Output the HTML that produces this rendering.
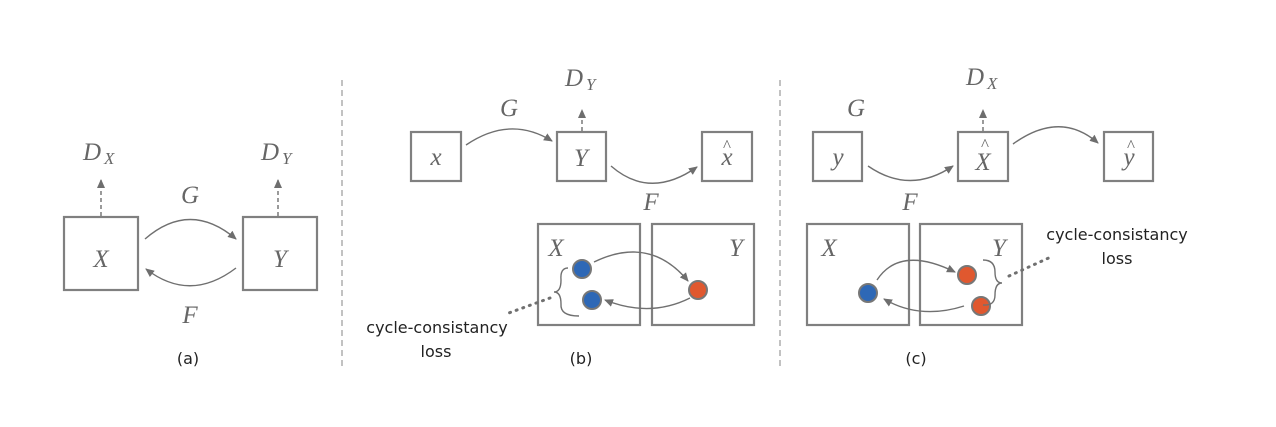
<!DOCTYPE html>
<html><head><style>body{margin:0;background:#fff}</style></head><body>
<svg width="1276" height="422" viewBox="0 0 1276 422" xmlns="http://www.w3.org/2000/svg">
<defs>
<marker id="ah" markerWidth="10" markerHeight="10" refX="8" refY="5" orient="auto" markerUnits="userSpaceOnUse"><path d="M0,1 L9,5 L0,9 Z" fill="#6e6e6e"/></marker>
</defs>
<style>
.b{fill:none;stroke:#808080;stroke-width:2.2}
.c{fill:none;stroke:#707070;stroke-width:1.4}
.d{stroke:#707070;stroke-width:1.4;stroke-dasharray:4,3}
.m{font-family:"Liberation Serif",serif;font-style:italic;fill:#666;font-size:25px}
.s{font-family:"Liberation Serif",serif;font-style:italic;fill:#666;font-size:17px}
.t{font-family:"DejaVu Sans","Liberation Sans",sans-serif;fill:#222;font-size:16px}
.sep{stroke:#999;stroke-width:1.2;stroke-dasharray:6,4}
.bl{fill:#2e68b6;stroke:#777;stroke-width:2}
.or{fill:#e0582f;stroke:#777;stroke-width:2}
.dot{stroke:#707070;stroke-width:3;stroke-dasharray:1,6;stroke-linecap:round}
</style>
<line class="sep" x1="342" y1="80" x2="342" y2="368"/>
<line class="sep" x1="780" y1="80" x2="780" y2="368"/>

<!-- (a) -->
<rect class="b" x="64" y="217" width="74" height="73"/>
<rect class="b" x="243" y="217" width="74" height="73"/>
<text class="m" x="101" y="267" text-anchor="middle">X</text>
<text class="m" x="280" y="267" text-anchor="middle">Y</text>
<text class="m" x="83" y="160">D</text><text class="s" x="104" y="164">X</text>
<text class="m" x="261" y="160">D</text><text class="s" x="282" y="164">Y</text>
<line class="d" x1="101" y1="216" x2="101" y2="180" marker-end="url(#ah)"/>
<line class="d" x1="278" y1="216" x2="278" y2="180" marker-end="url(#ah)"/>
<path class="c" d="M145,239 Q190,200 236,239" marker-end="url(#ah)"/>
<path class="c" d="M236,268 Q190,303 146,269" marker-end="url(#ah)"/>
<text class="m" x="190" y="203" text-anchor="middle">G</text>
<text class="m" x="190" y="323" text-anchor="middle">F</text>
<text class="t" x="188" y="364" text-anchor="middle">(a)</text>

<!-- (b) -->
<rect class="b" x="411" y="132" width="50" height="49"/>
<rect class="b" x="557" y="132" width="49" height="49"/>
<rect class="b" x="702" y="132" width="50" height="49"/>
<text class="m" x="436" y="165" text-anchor="middle">x</text>
<text class="m" x="581" y="166" text-anchor="middle">Y</text>
<text class="m" x="727" y="165" text-anchor="middle">x</text>
<text class="s" x="727" y="151" text-anchor="middle" style="font-style:normal">^</text>
<text class="m" x="565" y="86">D</text><text class="s" x="586" y="90">Y</text>
<line class="d" x1="582" y1="131" x2="582" y2="110" marker-end="url(#ah)"/>
<path class="c" d="M466,145 Q510,115 552,141" marker-end="url(#ah)"/>
<path class="c" d="M611,166 Q650,200 697,167" marker-end="url(#ah)"/>
<text class="m" x="509" y="116" text-anchor="middle">G</text>
<text class="m" x="651" y="210" text-anchor="middle">F</text>
<rect class="b" x="538" y="224" width="102" height="101"/>
<rect class="b" x="652" y="224" width="102" height="101"/>
<text class="m" x="556" y="256" text-anchor="middle">X</text>
<text class="m" x="736" y="256" text-anchor="middle">Y</text>
<path class="c" d="M594,262 Q650,235 688,281" marker-end="url(#ah)"/>
<path class="c" d="M690,298 Q650,318 605,300" marker-end="url(#ah)"/>
<circle class="bl" cx="582" cy="269" r="9"/>
<circle class="bl" cx="592" cy="300" r="9"/>
<circle class="or" cx="698" cy="290" r="9"/>
<path class="c" d="M568,268 Q560,268 561,280 Q561,292 554,292 Q561,292 561,304 Q560,316 579,316"/>
<line class="dot" x1="550" y1="298" x2="506" y2="314"/>
<text class="t" x="437" y="333" text-anchor="middle">cycle-consistancy</text>
<text class="t" x="436" y="357" text-anchor="middle">loss</text>
<text class="t" x="581" y="364" text-anchor="middle">(b)</text>

<!-- (c) -->
<rect class="b" x="813" y="132" width="49" height="49"/>
<rect class="b" x="958" y="132" width="50" height="49"/>
<rect class="b" x="1104" y="132" width="49" height="49"/>
<text class="m" x="838" y="165" text-anchor="middle">y</text>
<text class="m" x="983" y="170" text-anchor="middle">X</text>
<text class="s" x="985" y="150" text-anchor="middle" style="font-style:normal">^</text>
<text class="m" x="1129" y="165" text-anchor="middle">y</text>
<text class="s" x="1131" y="151" text-anchor="middle" style="font-style:normal">^</text>
<text class="m" x="966" y="85">D</text><text class="s" x="987" y="89">X</text>
<line class="d" x1="983" y1="131" x2="983" y2="110" marker-end="url(#ah)"/>
<path class="c" d="M868,166 Q910,195 953,166" marker-end="url(#ah)"/>
<path class="c" d="M1013,144 Q1060,110 1098,143" marker-end="url(#ah)"/>
<text class="m" x="856" y="116" text-anchor="middle">G</text>
<text class="m" x="910" y="210" text-anchor="middle">F</text>
<rect class="b" x="807" y="224" width="102" height="101"/>
<rect class="b" x="920" y="224" width="102" height="101"/>
<text class="m" x="829" y="256" text-anchor="middle">X</text>
<text class="m" x="999" y="256" text-anchor="middle">Y</text>
<path class="c" d="M877,280 Q900,245 955,272" marker-end="url(#ah)"/>
<path class="c" d="M964,306 Q920,320 884,299" marker-end="url(#ah)"/>
<circle class="bl" cx="868" cy="293" r="9"/>
<circle class="or" cx="967" cy="275" r="9"/>
<circle class="or" cx="981" cy="306" r="9"/>
<path class="c" d="M983,260 Q995,260 995,272 Q995,283 1002,283 Q995,283 995,295 Q995,306 983,305"/>
<line class="dot" x1="1009" y1="276" x2="1053" y2="256"/>
<text class="t" x="1117" y="240" text-anchor="middle">cycle-consistancy</text>
<text class="t" x="1117" y="264" text-anchor="middle">loss</text>
<text class="t" x="916" y="364" text-anchor="middle">(c)</text>
</svg>
</body></html>
